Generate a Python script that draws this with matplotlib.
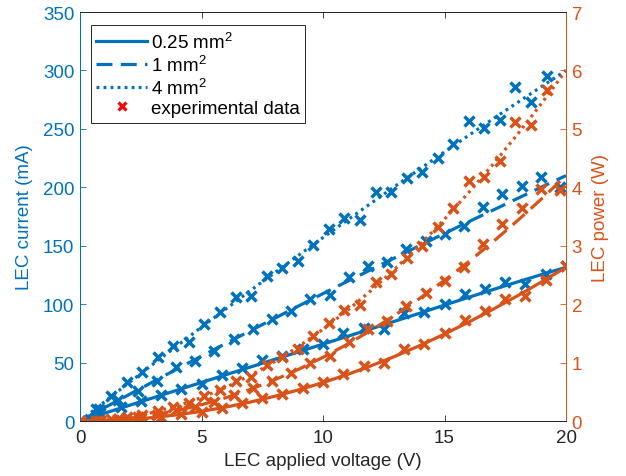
import matplotlib
matplotlib.use("Agg")
import matplotlib.pyplot as plt
from matplotlib.lines import Line2D

plt.rcParams['font.family'] = ['Liberation Sans', 'DejaVu Sans']
plt.rcParams['mathtext.fontset'] = 'custom'
plt.rcParams['mathtext.rm'] = 'Liberation Sans'

BLUE = '#0072BD'
ORANGE = '#D95319'
DARK = '#262626'

# Model curves (applied voltage in V, current in mA, power in W)
v_model = [0, 1, 2, 3, 4, 5, 6, 7, 8, 9, 10, 11, 12, 13, 14, 15, 16, 17, 18, 19, 20]
i_model_025 = [0, 6.6, 13.2, 19.8, 26.4, 33.0, 39.6, 46.1, 52.7, 59.2, 65.8, 72.4,
               79.0, 85.7, 92.4, 99.2, 105.9, 112.5, 119.0, 125.4, 131.5]
p_model_025 = [0, 0.007, 0.026, 0.059, 0.106, 0.165, 0.238, 0.323, 0.422, 0.533, 0.658,
               0.796, 0.948, 1.114, 1.294, 1.488, 1.694, 1.913, 2.142, 2.383, 2.630]
i_model_1 = [0, 11.3, 22.4, 33.5, 44.6, 55.5, 66.4, 77.1, 87.8, 98.5, 109.0, 119.5,
             129.8, 140.1, 150.4, 160.5, 170.6, 180.5, 190.4, 200.3, 210.0]
p_model_1 = [0, 0.011, 0.045, 0.101, 0.178, 0.278, 0.398, 0.540, 0.703, 0.886, 1.090,
             1.314, 1.558, 1.822, 2.105, 2.408, 2.729, 3.069, 3.428, 3.805, 4.200]
i_model_4 = [0, 16.3, 32.5, 48.6, 64.5, 80.3, 95.9, 111.4, 126.7, 141.9, 157.0, 171.9,
             186.7, 201.4, 215.9, 230.3, 244.5, 258.6, 272.5, 286.3, 300.0]
p_model_4 = [0, 0.016, 0.065, 0.146, 0.258, 0.401, 0.575, 0.780, 1.014, 1.277, 1.570,
             1.891, 2.241, 2.618, 3.022, 3.454, 3.912, 4.396, 4.905, 5.440, 6.000]

# Measured data
v_025 = [0, 0.83, 1.67, 2.5, 3.33, 4.17, 5.0, 5.83, 6.67, 7.5, 8.33, 9.17, 10.0,
         10.83, 11.67, 12.5, 13.33, 14.17, 15.0, 15.83, 16.67, 17.5, 18.33, 19.17, 20.0]
i_025 = [0, 7, 12, 17, 22, 27, 32, 39, 45, 52, 56, 62, 66, 75, 80, 79, 92, 93, 100,
         109, 113, 119, 117, 126, 133]
p_025 = [0, 0.006, 0.020, 0.043, 0.073, 0.113, 0.160, 0.228, 0.300, 0.390, 0.467,
         0.568, 0.660, 0.813, 0.933, 0.988, 1.227, 1.318, 1.500, 1.726, 1.883, 2.083,
         2.145, 2.415, 2.660]

v_1 = [0, 0.79, 1.58, 2.37, 3.16, 3.95, 4.74, 5.53, 6.32, 7.11, 7.90, 8.69, 9.48,
       10.27, 11.06, 11.85, 12.64, 13.43, 14.22, 15.01, 15.80, 16.59, 17.38, 18.17,
       18.96, 19.75]
i_1 = [0, 10, 18, 26, 34, 46, 51, 60, 70, 79, 87, 94, 104, 108, 123, 133, 136, 147,
       154, 160, 167, 183, 194, 201, 209, 200]
p_1 = [0, 0.008, 0.028, 0.062, 0.107, 0.182, 0.242, 0.332, 0.442, 0.562, 0.687, 0.817,
       0.986, 1.109, 1.360, 1.576, 1.719, 1.974, 2.190, 2.402, 2.639, 3.036, 3.372,
       3.652, 3.963, 3.950]

v_4 = [0, 0.64, 1.28, 1.92, 2.56, 3.20, 3.84, 4.48, 5.12, 5.76, 6.40, 7.04, 7.68,
       8.32, 8.96, 9.60, 10.24, 10.88, 11.52, 12.16, 12.80, 13.44, 14.08, 14.72, 15.36,
       16.00, 16.64, 17.28, 17.92, 18.56, 19.20]
i_4 = [0, 10, 21, 33, 42, 55, 64, 68, 83, 93, 106, 107, 124, 131, 137, 151, 164, 174,
       172, 196, 196, 208, 213, 225, 237, 257, 251, 258, 286, 273, 295]
p_4 = [0, 0.006, 0.027, 0.063, 0.108, 0.176, 0.246, 0.305, 0.425, 0.536, 0.678, 0.753,
       0.952, 1.090, 1.228, 1.450, 1.679, 1.893, 1.981, 2.383, 2.509, 2.796, 2.999,
       3.312, 3.640, 4.112, 4.177, 4.458, 5.125, 5.067, 5.664]

legend_labels = ['0.25 mm$^2$', '1 mm$^2$', '4 mm$^2$', 'experimental data']

LW = 2.3
SOLID = '-'
DASHED = (0, (5, 2.6))
DOTTED = (0, (0.9, 1.3))
MK = dict(marker='x', linestyle='none', markersize=7, markeredgewidth=2.5)

fig = plt.figure(figsize=(6.26, 4.77), dpi=100)
ax = fig.add_axes([0.1278, 0.1153, 0.7764, 0.8574])
ax2 = ax.twinx()

# Current (left axis)
ax.plot(v_model, i_model_025, color=BLUE, lw=LW, linestyle=SOLID)
ax.plot(v_model, i_model_1, color=BLUE, lw=LW, linestyle=DASHED)
ax.plot(v_model, i_model_4, color=BLUE, lw=LW, linestyle=DOTTED)
ax.plot(v_025, i_025, color=BLUE, **MK)
ax.plot(v_1, i_1, color=BLUE, **MK)
ax.plot(v_4, i_4, color=BLUE, **MK)

# Power (right axis)
ax2.plot(v_model, p_model_025, color=ORANGE, lw=LW, linestyle=SOLID)
ax2.plot(v_model, p_model_1, color=ORANGE, lw=LW, linestyle=DASHED)
ax2.plot(v_model, p_model_4, color=ORANGE, lw=LW, linestyle=DOTTED)
ax2.plot(v_025, p_025, color=ORANGE, **MK)
ax2.plot(v_1, p_1, color=ORANGE, **MK)
ax2.plot(v_4, p_4, color=ORANGE, **MK)

FS = 13.5
ax.set_xlim(0, 20)
ax.set_ylim(0, 350)
ax2.set_ylim(0, 7)
ax.set_xticks([0, 5, 10, 15, 20])
ax.set_yticks(range(0, 351, 50))
ax2.set_yticks(range(0, 8))

ax.tick_params(axis='x', direction='in', top=True, colors=DARK, labelsize=FS,
               length=4, width=0.6, pad=6)
ax.tick_params(axis='y', direction='in', colors=BLUE, labelsize=FS, length=4,
               width=0.6, pad=4)
ax2.tick_params(axis='y', direction='in', colors=ORANGE, labelsize=FS, length=4,
                width=0.6, pad=4)

for a in (ax, ax2):
    a.spines['top'].set_color(DARK)
    a.spines['bottom'].set_color(DARK)
    a.spines['left'].set_color(BLUE)
    a.spines['right'].set_color(ORANGE)
    for s in a.spines.values():
        s.set_linewidth(0.7)

ax.set_xlabel('LEC applied voltage (V)', fontsize=FS, color=DARK, labelpad=4)
ax.set_ylabel('LEC current (mA)', fontsize=FS, color=BLUE, labelpad=7)
ax2.set_ylabel('LEC power (W)', fontsize=FS, color=ORANGE, labelpad=7)

handles = [
    Line2D([], [], color=BLUE, lw=LW, linestyle=SOLID),
    Line2D([], [], color=BLUE, lw=LW, linestyle=DASHED),
    Line2D([], [], color=BLUE, lw=LW, linestyle=DOTTED),
    Line2D([], [], color='#FF0000', marker='x', linestyle='none', markersize=5.5,
           markeredgewidth=2.3),
]
leg = ax2.legend(handles, legend_labels, loc='upper left', bbox_to_anchor=(0.022, 0.968),
                 fontsize=FS, frameon=True, fancybox=False, framealpha=1,
                 edgecolor=DARK, handlelength=2.7, handletextpad=0.2,
                 labelspacing=0.12, borderpad=0.3, borderaxespad=0)
leg.get_frame().set_linewidth(0.7)

fig.savefig('out.png', dpi=100)
